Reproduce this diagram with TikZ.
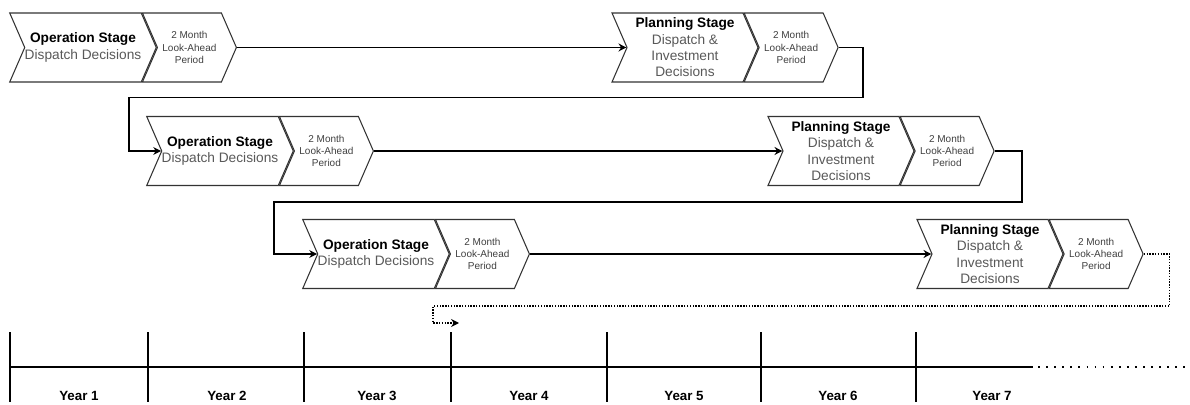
\documentclass[tikz,border=0pt]{standalone}
\usepackage{fontspec}
\setmainfont{Liberation Sans}
\usetikzlibrary{shapes.symbols,arrows.meta,positioning}
\definecolor{edge}{HTML}{333333}
\definecolor{ink}{HTML}{000000}
\definecolor{soft}{HTML}{595959}
\definecolor{small}{HTML}{404040}
\tikzset{
  chev/.style={signal, signal from=west, signal to=east, signal pointer angle=133,
    draw=edge, line width=0.6pt, fill=white, minimum height=1.38cm, inner sep=0pt, align=center},
  stage/.style={chev, minimum width=2.92cm, font=\fontsize{7.8}{9.3}\selectfont},
  look/.style={chev, minimum width=1.88cm, text=small, font=\fontsize{5.7}{6.9}\selectfont},
  flow/.style={draw=ink, line width=1pt, -{Stealth[length=4.5pt,width=4.5pt]}},
  loopback/.style={draw=ink, line width=0.9pt, dash pattern=on 0.8pt off 0.8pt, -{Stealth[length=4.5pt,width=4.5pt]}},
  tick/.style={draw=ink, line width=0.9pt},
  axis/.style={draw=ink, line width=1.1pt},
  axisdot/.style={draw=ink, line width=1.1pt, dash pattern=on 1pt off 3.6pt},
  year/.style={font=\fontsize{7.6}{9}\selectfont\bfseries},
}
\newcommand{\opstage}{\textbf{Operation Stage}\\\textcolor{soft}{Dispatch Decisions}}
\newcommand{\plstage}{\textbf{Planning Stage}\\\textcolor{soft}{Dispatch \&}\\\textcolor{soft}{Investment}\\\textcolor{soft}{Decisions}}
\newcommand{\lookahead}{2 Month\\Look-Ahead\\Period}

\begin{document}
\begin{tikzpicture}[x=0.02cm, y=-0.02cm]
  \useasboundingbox (0,0) rectangle (1190,405);

  % row 1
  \node[stage] (op1) at (83,47.5) {\opstage};
  \node[look, right=0pt of op1] (la1) {\lookahead};
  \node[stage] (pl1) at (685,47.5) {\plstage};
  \node[look, right=0pt of pl1] (lb1) {\lookahead};

  % row 2
  \node[stage] (op2) at (220,151) {\opstage};
  \node[look, right=0pt of op2] (la2) {\lookahead};
  \node[stage] (pl2) at (841,151) {\plstage};
  \node[look, right=0pt of pl2] (lb2) {\lookahead};

  % row 3
  \node[stage] (op3) at (376,254) {\opstage};
  \node[look, right=0pt of op3] (la3) {\lookahead};
  \node[stage] (pl3) at (990,254) {\plstage};
  \node[look, right=0pt of pl3] (lb3) {\lookahead};

  \draw[flow] (la1.east) -- (pl1.west);
  \draw[flow] (lb1.east) -| ++(24,50) -| ([xshift=-0.64cm]op2.west) -- (op2.west);
  \draw[flow] (la2.east) -- (pl2.west);
  \draw[flow] (lb2.east) -| ++(27,51) -| ([xshift=-0.86cm]op3.west) -- (op3.west);
  \draw[flow] (la3.east) -- (pl3.west);

  % next horizon starts in year 4
  \coordinate (nxt) at (459,323);
  \draw[loopback] (lb3.east) -| ++(26,52) -| ([xshift=-0.52cm]nxt) -- (nxt);

  % timeline
  \coordinate (t1) at (10,367);
  \coordinate (t2) at (148,367);
  \coordinate (t3) at (304,367);
  \coordinate (t4) at (451,367);
  \coordinate (t5) at (607,367);
  \coordinate (t6) at (761,367);
  \coordinate (t7) at (916,367);
  \coordinate (t8) at (1033,367);
  \coordinate (t9) at (1190,367);
  \foreach \t in {t1,t2,t3,t4,t5,t6,t7}
    \draw[tick] ([yshift=0.7cm]\t) -- ([yshift=-0.7cm]\t);
  \draw[axis] (t1) -- (t8);
  \draw[axisdot] ([xshift=0.1cm]t8) -- (t9);

  \node[year] (y1) at (79,396) {Year 1};
  \node[year] (y2) at (227,396) {Year 2};
  \node[year] (y3) at (377,396) {Year 3};
  \node[year] (y4) at (529,396) {Year 4};
  \node[year] (y5) at (684,396) {Year 5};
  \node[year] (y6) at (838,396) {Year 6};
  \node[year] (y7) at (992,396) {Year 7};
\end{tikzpicture}
\end{document}
